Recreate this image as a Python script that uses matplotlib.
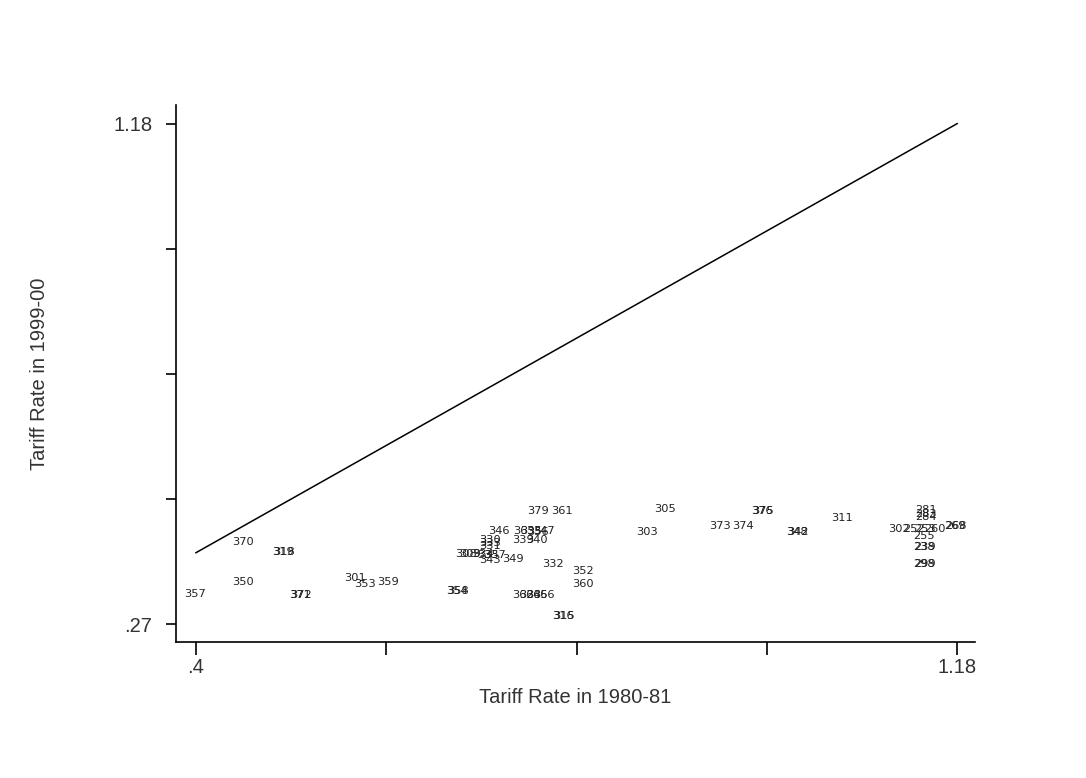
import matplotlib
matplotlib.use("Agg")
import matplotlib.pyplot as plt

# industry codes with tariff rates (1980-81 vs 1999-00)
codes = ["357", "370", "319", "318", "350", "371", "372", "301", "353", "359",
         "354", "358", "379", "361", "346", "363", "355", "356", "347",
         "339", "340", "330", "333", "331", "308", "309", "334", "335", "337",
         "343", "349", "332", "352", "360", "362", "364", "365", "366",
         "316", "315", "305", "303", "376", "375", "373", "374", "348", "342",
         "311", "281", "283", "284", "302", "252", "253", "260", "269", "268",
         "255", "238", "239", "298", "299"]
tariff_8081 = [0.399, 0.448, 0.489, 0.490, 0.448, 0.507, 0.508, 0.563, 0.573, 0.597,
               0.667, 0.669, 0.750, 0.775, 0.710, 0.736, 0.743, 0.750, 0.757,
               0.735, 0.749, 0.701, 0.701, 0.701, 0.677, 0.681, 0.694, 0.699, 0.706,
               0.701, 0.725, 0.766, 0.797, 0.797, 0.735, 0.742, 0.749, 0.757,
               0.776, 0.777, 0.881, 0.862, 0.980, 0.981, 0.937, 0.961, 1.016, 1.017,
               1.062, 1.148, 1.148, 1.148, 1.120, 1.136, 1.147, 1.157, 1.178, 1.179,
               1.146, 1.146, 1.147, 1.146, 1.147]
tariff_9900 = [0.325, 0.419, 0.401, 0.401, 0.346, 0.323, 0.323, 0.354, 0.343, 0.346,
               0.330, 0.330, 0.475, 0.475, 0.439, 0.439, 0.439, 0.437, 0.439,
               0.423, 0.423, 0.424, 0.418, 0.412, 0.397, 0.397, 0.397, 0.396, 0.395,
               0.386, 0.388, 0.379, 0.366, 0.344, 0.323, 0.323, 0.323, 0.323,
               0.2845, 0.2845, 0.479, 0.437, 0.475, 0.475, 0.448, 0.448, 0.437, 0.437,
               0.464, 0.477, 0.471, 0.465, 0.443, 0.443, 0.443, 0.443, 0.448, 0.448,
               0.431, 0.410, 0.410, 0.379, 0.379]

x_ticks = [0.4, 0.595, 0.79, 0.985, 1.18]
x_ticklabels = [".4", "", "", "", "1.18"]
y_ticks = [0.27, 0.4975, 0.725, 0.9525, 1.18]
y_ticklabels = [".27", "", "", "", "1.18"]

plt.rcParams["font.family"] = ["Liberation Sans", "DejaVu Sans"]

fig = plt.figure(figsize=(10.86, 7.78), dpi=100)
ax = fig.add_axes([0.162, 0.1745, 0.736, 0.691])

# 45 degree line
ax.plot([0.4, 1.18], [0.4, 1.18], color="black", lw=1.1)

for c, x, y in zip(codes, tariff_8081, tariff_9900):
    ax.text(x, y, c, fontsize=8.2, family="DejaVu Sans", color="#222222",
            ha="center", va="center")

ax.set_xlim(0.3795, 1.1985)
ax.set_ylim(0.2373, 1.2145)
ax.set_xticks(x_ticks)
ax.set_xticklabels(x_ticklabels)
ax.set_yticks(y_ticks)
ax.set_yticklabels(y_ticklabels)
ax.tick_params(axis="x", length=9.5, width=1.2, labelsize=14.5, pad=2, labelcolor="#333333")
ax.tick_params(axis="y", length=7, width=1.2, labelsize=14.5, pad=10, labelcolor="#333333")

ax.spines["top"].set_visible(False)
ax.spines["right"].set_visible(False)
ax.spines["left"].set_linewidth(1.2)
ax.spines["bottom"].set_linewidth(1.2)

ax.set_xlabel("Tariff Rate in 1980-81", fontsize=14.5, color="#333333", labelpad=8)
ax.set_ylabel("Tariff Rate in 1999-00", fontsize=14.5, color="#333333", labelpad=46)

fig.savefig("out.png", dpi=100)
